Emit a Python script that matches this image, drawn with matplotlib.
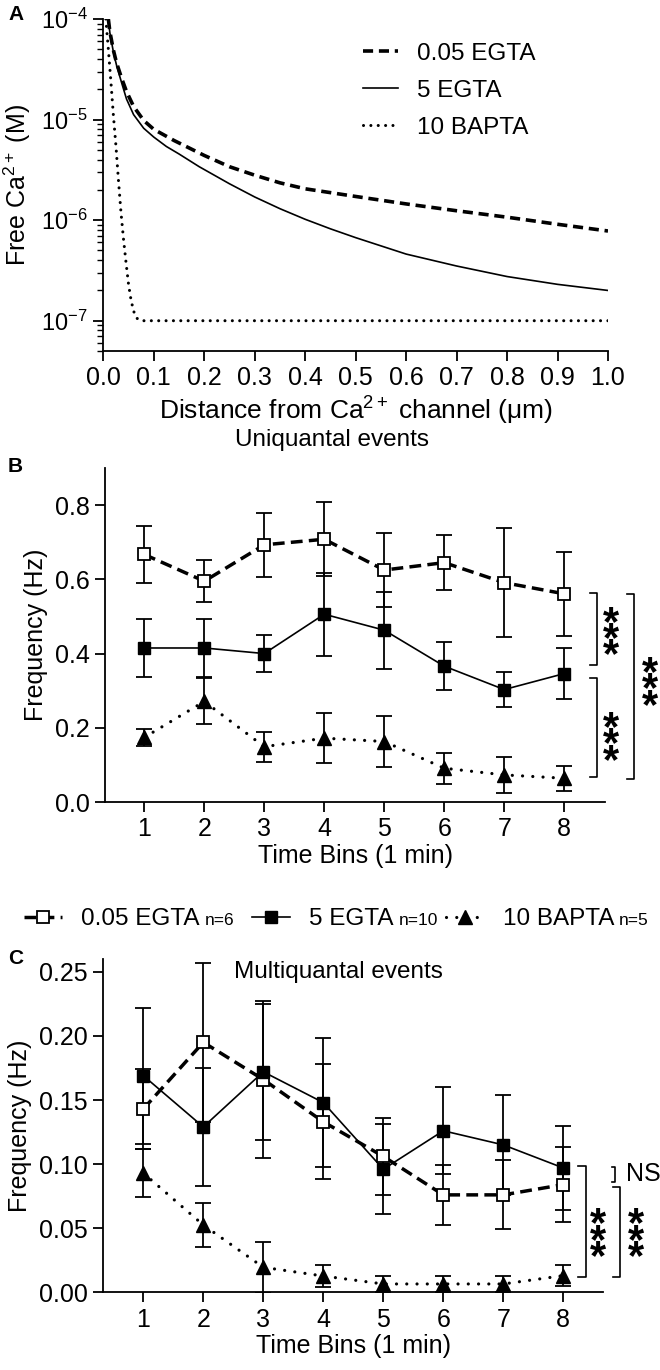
import matplotlib
matplotlib.use("Agg")
import matplotlib.pyplot as plt
from matplotlib.ticker import LogLocator, FixedLocator, FormatStrFormatter, NullFormatter
from matplotlib.transforms import IdentityTransform

plt.rcParams['font.family'] = ['Liberation Sans', 'DejaVu Sans']
plt.rcParams['mathtext.fontset'] = 'custom'
plt.rcParams['mathtext.rm'] = 'Liberation Sans'
plt.rcParams['mathtext.it'] = 'Liberation Sans:italic'
plt.rcParams['axes.linewidth'] = 1.3

# ---- panel A: free Ca2+ vs distance ----
dist_egta005 = [0.01, 0.013, 0.02, 0.026, 0.036, 0.046, 0.06, 0.08, 0.10, 0.14, 0.20, 0.25,
                0.30, 0.35, 0.40, 0.50, 0.60, 0.70, 0.80, 0.90, 1.00]
ca_egta005 = [1.0e-4, 7.5e-5, 4.9e-5, 3.7e-5, 2.6e-5, 1.9e-5, 1.35e-5, 9.8e-6, 8.0e-6,
              6.2e-6, 4.4e-6, 3.4e-6, 2.8e-6, 2.35e-6, 2.05e-6, 1.72e-6, 1.45e-6,
              1.24e-6, 1.07e-6, 9.1e-7, 7.8e-7]
dist_egta5 = [0.01, 0.013, 0.02, 0.026, 0.036, 0.046, 0.06, 0.08, 0.10, 0.125, 0.15, 0.19,
              0.25, 0.30, 0.35, 0.40, 0.45, 0.50, 0.60, 0.70, 0.80, 0.90, 1.00]
ca_egta5 = [1.0e-4, 7.3e-5, 4.7e-5, 3.5e-5, 2.35e-5, 1.6e-5, 1.12e-5, 8.2e-6, 6.7e-6, 5.4e-6,
            4.55e-6, 3.4e-6, 2.3e-6, 1.7e-6, 1.3e-6, 1.02e-6, 8.2e-7, 6.7e-7, 4.6e-7,
            3.5e-7, 2.75e-7, 2.3e-7, 2.0e-7]
dist_bapta = [0.005, 0.01, 0.015, 0.02, 0.025, 0.03, 0.035, 0.04, 0.045, 0.05, 0.055,
              0.06, 0.065, 0.07, 0.08, 1.00]
ca_bapta = [1.0e-4, 5.0e-5, 2.4e-5, 1.1e-5, 5.5e-6, 2.5e-6, 1.2e-6, 6.5e-7, 3.8e-7,
            2.3e-7, 1.6e-7, 1.25e-7, 1.08e-7, 1.02e-7, 1.0e-7, 1.0e-7]

# ---- panels B and C: frequency per time bin (mean, SEM) ----
bins = [1, 2, 3, 4, 5, 6, 7, 8]
conditions = ['0.05 EGTA', '5 EGTA', '10 BAPTA']
n_labels = ['n=6', 'n=10', 'n=5']

uni_egta005 = [0.667, 0.595, 0.693, 0.708, 0.625, 0.645, 0.591, 0.561]
uni_egta005_sem = [0.077, 0.057, 0.087, 0.100, 0.100, 0.074, 0.146, 0.113]
uni_egta5 = [0.415, 0.415, 0.400, 0.506, 0.463, 0.366, 0.303, 0.346]
uni_egta5_sem = [0.078, 0.078, 0.050, 0.112, 0.104, 0.064, 0.048, 0.068]
uni_bapta = [0.174, 0.271, 0.149, 0.172, 0.163, 0.091, 0.073, 0.064]
uni_bapta_sem = [0.024, 0.062, 0.040, 0.068, 0.068, 0.042, 0.048, 0.034]

multi_egta005 = [0.143, 0.195, 0.166, 0.133, 0.106, 0.076, 0.076, 0.084]
multi_egta005_sem = [0.031, 0.062, 0.061, 0.045, 0.030, 0.0235, 0.027, 0.0295]
multi_egta5 = [0.169, 0.129, 0.172, 0.148, 0.096, 0.126, 0.115, 0.097]
multi_egta5_sem = [0.053, 0.046, 0.053, 0.050, 0.035, 0.034, 0.039, 0.033]
multi_bapta = [0.093, 0.0525, 0.0195, 0.0127, 0.0065, 0.0065, 0.0065, 0.013]
multi_bapta_sem = [0.019, 0.017, 0.020, 0.0085, 0.0065, 0.0065, 0.0065, 0.008]

# significance brackets: (x_tick_end, x_bar, y_top, y_bottom); marks: (label, x, y)
uni_brackets = [(8.43, 8.55, 0.562, 0.368), (8.43, 8.55, 0.334, 0.067), (9.04, 9.16, 0.561, 0.062)]
uni_marks = [('***', 8.78, 0.47), ('***', 8.78, 0.186), ('***', 9.43, 0.335)]
multi_brackets = [(8.25, 8.38, 0.0985, 0.0117), (8.81, 8.86, 0.098, 0.086), (8.83, 8.945, 0.082, 0.0117)]
multi_marks = [('***', 8.58, 0.049), ('NS', 9.33, 0.092), ('***', 9.21, 0.049)]

FS = 18
W, H = 660, 1370
fig = plt.figure(figsize=(W / 100, H / 100), dpi=100)


def frac(l, t, r, b):
    return [l / W, 1 - b / H, (r - l) / W, (b - t) / H]


def style(ax):
    for s in ['top', 'right']:
        ax.spines[s].set_visible(False)
    ax.tick_params(direction='out', length=7, width=1.3, labelsize=FS, pad=4)
    ax.tick_params(which='minor', direction='out', length=4, width=1.0)


# ---------------- A ----------------
axA = fig.add_axes(frac(103.3, 19, 608, 351))
style(axA)
axA.plot(dist_egta005, ca_egta005, color='k', lw=2.6, ls=(0, (2.8, 1.6)), label='0.05 EGTA')
axA.plot(dist_egta5, ca_egta5, color='k', lw=1.2, ls='-', label='5 EGTA')
axA.plot(dist_bapta, ca_bapta, color='k', lw=2.2, ls=(0, (0.01, 2.4)),
         dash_capstyle='round', label='10 BAPTA')
axA.set_yscale('log')
axA.set_ylim(5e-8, 1e-4)
axA.set_xlim(0, 1.0)
axA.yaxis.set_major_locator(LogLocator(base=10, numticks=10))
axA.yaxis.set_minor_locator(LogLocator(base=10, subs=range(2, 10), numticks=20))
axA.yaxis.set_minor_formatter(NullFormatter())
axA.xaxis.set_major_locator(FixedLocator([i / 10 for i in range(11)]))
axA.xaxis.set_major_formatter(FormatStrFormatter('%.1f'))
axA.tick_params(axis='y', labelsize=17)
axA.set_ylabel('Free Ca$^{2+}$ (M)', fontsize=18, labelpad=6)
axA.set_xlabel('Distance from Ca$^{2+}$ channel (μm)', fontsize=19, labelpad=3)
axA.legend(loc='upper left', bbox_to_anchor=(0.49, 0.965), frameon=False, fontsize=17.5,
           handlelength=1.45, handletextpad=0.8, labelspacing=0.62, borderpad=0)


# ---------------- B and C ----------------
def series(ax, means, sems, kind):
    if kind == 0:
        kw = dict(ls=(0, (3.4, 1.8)), lw=2.5, marker='s', ms=8.5, mfc='white', mec='k', mew=1.3)
    elif kind == 1:
        kw = dict(ls='-', lw=1.2, marker='s', ms=8.5, mfc='k', mec='k')
    else:
        kw = dict(ls=(0, (0.01, 3.2)), lw=2.3, dash_capstyle='round', marker='^', ms=10,
                  mfc='k', mec='k')
    return ax.errorbar(bins, means, yerr=sems, color='k', ecolor='k', elinewidth=1.3,
                       capsize=5.5, capthick=1.3, **kw)


def brackets(ax, brs, marks):
    for x0, x1, yt, yb in brs:
        ax.plot([x0, x1, x1, x0], [yt, yt, yb, yb], color='k', lw=1.2, clip_on=False)
    for s, x, y in marks:
        if s == 'NS':
            ax.text(x, y, s, fontsize=18, ha='center', va='center', clip_on=False)
            continue
        fs = 30
        # asterisks stacked vertically as one text; glyphs sit high in the line box
        ax.annotate('\n'.join(s), xy=(x, y), xytext=(0, -0.30 * fs),
                    textcoords='offset points', fontsize=fs, fontweight='bold',
                    ha='center', va='center', linespacing=0.24,
                    multialignment='center', annotation_clip=False)


axB = fig.add_axes(frac(105, 468, 605, 802))
style(axB)
ebB = [series(axB, uni_egta005, uni_egta005_sem, 0),
       series(axB, uni_egta5, uni_egta5_sem, 1),
       series(axB, uni_bapta, uni_bapta_sem, 2)]
axB.set_xlim(0.345, 8.68)
axB.set_ylim(0, 0.9)
axB.set_xticks(bins)
axB.set_yticks([0.0, 0.2, 0.4, 0.6, 0.8])
axB.yaxis.set_major_formatter(FormatStrFormatter('%.1f'))
axB.set_ylabel('Frequency (Hz)', fontsize=18, labelpad=5)
axB.set_xlabel('Time Bins (1 min)', fontsize=18, labelpad=2)
axB.text(0.454, 1.084, 'Uniquantal events', transform=axB.transAxes, fontsize=17.5,
         ha='center', va='center')
brackets(axB, uni_brackets, uni_marks)

axC = fig.add_axes(frac(103.3, 959, 603.3, 1292.3))
style(axC)
for m, s, k in [(multi_egta005, multi_egta005_sem, 0), (multi_egta5, multi_egta5_sem, 1),
                (multi_bapta, multi_bapta_sem, 2)]:
    series(axC, m, s, k)
axC.set_xlim(1 / 3, 8 + 2 / 3)
axC.set_ylim(0, 0.26)
axC.set_xticks(bins)
axC.set_yticks([0.0, 0.05, 0.10, 0.15, 0.20, 0.25])
axC.yaxis.set_major_formatter(FormatStrFormatter('%.2f'))
axC.set_ylabel('Frequency (Hz)', fontsize=18, labelpad=5)
axC.set_xlabel('Time Bins (1 min)', fontsize=18, labelpad=2)
axC.text(0.47, 0.96, 'Multiquantal events', transform=axC.transAxes, fontsize=17.5,
         ha='center', va='center')
brackets(axC, multi_brackets, multi_marks)

# shared legend between B and C
leg = fig.legend(handles=[e[0] for e in ebB], labels=conditions, loc='center left',
                 bbox_to_anchor=(24 / W, 1 - 919 / H), ncol=3, frameon=False, fontsize=17.5,
                 handlelength=1.55, handletextpad=0.8, columnspacing=2.15,
                 borderpad=0, borderaxespad=0)

# panel letters
for letter, (x, y) in zip('ABC', [(8, 14), (8, 466), (8, 958)]):
    fig.text(x / W, 1 - y / H, letter, fontsize=15, fontweight='bold', ha='left', va='center')

fig.canvas.draw()
for t, n in zip(leg.get_texts(), n_labels):
    bb = t.get_window_extent()
    fig.text(bb.x1 + 5, bb.y0 + 0.212 * 17.5 * 100 / 72, n, fontsize=12.5,
             transform=IdentityTransform(), ha='left', va='baseline')

fig.savefig('out.png', dpi=100)
